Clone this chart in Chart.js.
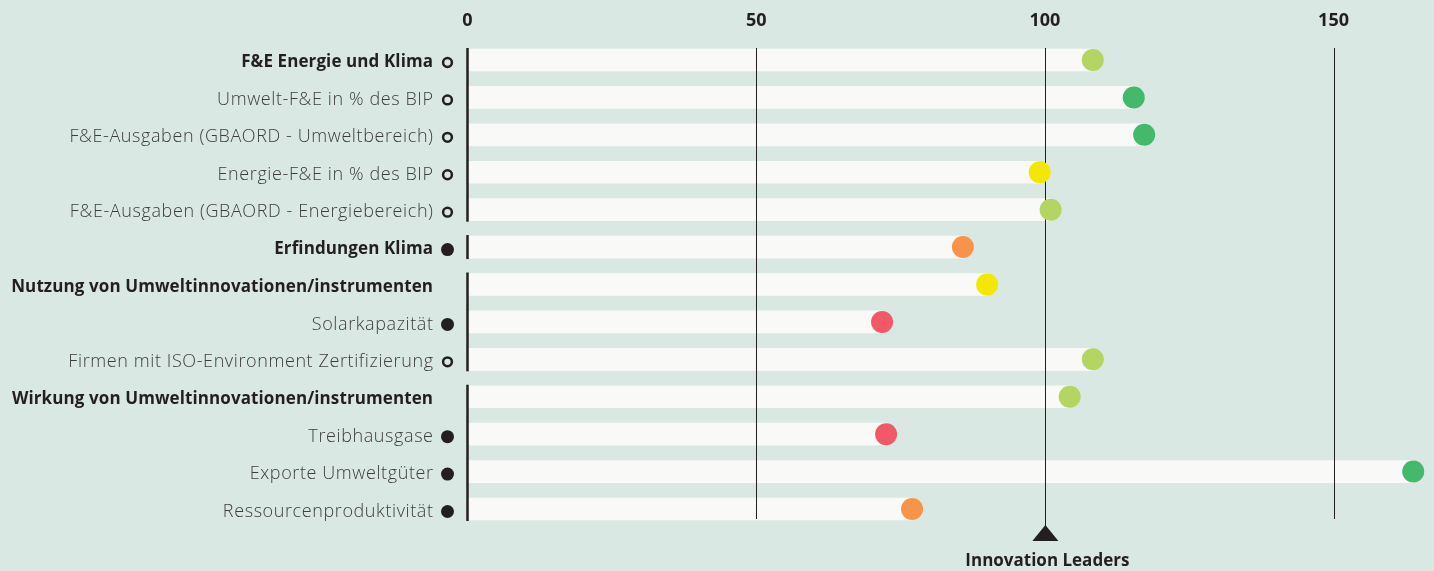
<!DOCTYPE html>
<html>
<head>
<meta charset="utf-8">
<script src="https://cdn.jsdelivr.net/npm/chart.js@4"></script>
<style>
  html, body { margin: 0; padding: 0; background: #d9e8e3; }
  #wrap { width: 1434px; height: 571px; }
</style>
</head>
<body>
<div id="wrap"><canvas id="indicatorChart"></canvas></div>
<script>
const categories = [
    'F&E Energie und Klima',
    'Umwelt-F&E in % des BIP',
    'F&E-Ausgaben (GBAORD - Umweltbereich)',
    'Energie-F&E in % des BIP',
    'F&E-Ausgaben (GBAORD - Energiebereich)',
    'Erfindungen Klima',
    'Nutzung von Umweltinnovationen/instrumenten',
    'Solarkapazität',
    'Firmen mit ISO-Environment Zertifizierung',
    'Wirkung von Umweltinnovationen/instrumenten',
    'Treibhausgase',
    'Exporte Umweltgüter',
    'Ressourcenproduktivität'
];
const values = [108.3, 115.4, 117.2, 99.1, 101.0, 85.8, 90.0, 71.8, 108.3, 104.3, 72.5, 163.8, 77.0];
const dotColors = ['#b4d562', '#44b96b', '#44b96b', '#f4e800', '#b4d562', '#f8944a', '#f4e800', '#f05a68', '#b4d562', '#b4d562', '#f05a68', '#44b96b', '#f8944a'];
const markers = ['open', 'open', 'open', 'open', 'open', 'filled', 'none', 'filled', 'open', 'none', 'filled', 'filled', 'filled'];
const boldRows = [true, false, false, false, false, true, true, false, false, true, false, false, false];
const groups = [0, 0, 0, 0, 0, 1, 2, 2, 2, 3, 3, 3, 3];
const tickValues = [0, 50, 100, 150];
const gridValues = [50, 100, 150];
const referenceValue = 100;
const referenceLabel = 'Innovation Leaders';

const ink = '#231f20';

const decorations = {
    id: 'decorations',
    afterDatasetDraw(chart, args) {
        if (args.meta.type !== 'bar') return;
        const ctx = chart.ctx;
        const x = chart.scales.x, y = chart.scales.y;
        const half = 11;
        const top = y.getPixelForValue(0) - half - 1;
        const bottom = y.getPixelForValue(categories.length - 1) + half + 1;
        ctx.save();
        // vertical grid lines
        ctx.strokeStyle = ink;
        ctx.lineWidth = 1;
        gridValues.forEach(v => {
            const px = Math.round(x.getPixelForValue(v)) + 0.5;
            ctx.beginPath();
            ctx.moveTo(px, top);
            ctx.lineTo(px, v === referenceValue ? bottom + 6 : bottom - 2);
            ctx.stroke();
        });
        // group segments at zero
        ctx.lineWidth = 2.5;
        const x0 = x.getPixelForValue(0);
        let start = 0;
        for (let i = 1; i <= groups.length; i++) {
            if (i === groups.length || groups[i] !== groups[start]) {
                ctx.beginPath();
                ctx.moveTo(x0, y.getPixelForValue(start) - half - 1);
                ctx.lineTo(x0, y.getPixelForValue(i - 1) + half + 1);
                ctx.stroke();
                start = i;
            }
        }
        ctx.restore();
    },
    afterDraw(chart) {
        const ctx = chart.ctx;
        const x = chart.scales.x, y = chart.scales.y;
        ctx.save();
        // row labels and markers
        ctx.textAlign = 'right';
        ctx.textBaseline = 'middle';
        categories.forEach((label, i) => {
            const py = y.getPixelForValue(i);
            let spacing = 0.6;
            if (boldRows[i]) {
                ctx.font = 'bold 17px "Open Sans"';
                spacing = 0.1;
                ctx.fillStyle = ink;
            } else {
                ctx.font = '300 18px "Open Sans"';
                ctx.fillStyle = '#3d3d3d';
            }
            ctx.letterSpacing = spacing + 'px';
            ctx.fillText(label, 433 + spacing, py + 2.5);
            ctx.letterSpacing = '0px';
            if (markers[i] === 'open') {
                ctx.strokeStyle = ink;
                ctx.lineWidth = 2.5;
                ctx.beginPath();
                ctx.arc(447.5, py + 2.5, 4.4, 0, Math.PI * 2);
                ctx.stroke();
            } else if (markers[i] === 'filled') {
                ctx.fillStyle = ink;
                ctx.beginPath();
                ctx.arc(447.5, py + 2.5, 6.5, 0, Math.PI * 2);
                ctx.fill();
            }
        });
        // reference marker
        const rx = x.getPixelForValue(referenceValue) + 0.5;
        ctx.fillStyle = ink;
        ctx.beginPath();
        ctx.moveTo(rx, 525);
        ctx.lineTo(rx + 13, 541);
        ctx.lineTo(rx - 13, 541);
        ctx.closePath();
        ctx.fill();
        ctx.textAlign = 'center';
        ctx.font = 'bold 17px "Open Sans"';
        ctx.fillText(referenceLabel, rx + 2, 561);
        ctx.restore();
    }
};

new Chart(document.getElementById('indicatorChart'), {
    type: 'bar',
    data: {
        labels: categories,
        datasets: [{
            type: 'line',
            indexAxis: 'y',
            data: values,
            showLine: false,
            pointRadius: 11,
            pointHoverRadius: 11,
            pointBorderWidth: 0,
            pointBackgroundColor: dotColors,
            clip: false,
            order: 0
        }, {
            type: 'bar',
            indexAxis: 'y',
            data: values,
            backgroundColor: '#f9faf8',
            borderWidth: 0,
            barThickness: 22,
            order: 1
        }]
    },
    options: {
        indexAxis: 'y',
        responsive: true,
        maintainAspectRatio: false,
        animation: false,
        layout: { autoPadding: false, padding: { left: 467.5, right: 0, top: 0, bottom: 43.3 } },
        plugins: { legend: { display: false }, tooltip: { enabled: false } },
        scales: {
            x: {
                position: 'top',
                min: 0,
                max: 167.4,
                grid: { display: false, drawTicks: false },
                border: { display: false },
                afterBuildTicks: scale => { scale.ticks = tickValues.map(v => ({ value: v })); },
                afterFit: scale => { scale.height = 41.3; },
                ticks: {
                    color: ink,
                    padding: 10,
                    font: { family: 'Open Sans', weight: 'bold', size: 18 }
                }
            },
            y: {
                display: false,
                offset: true
            }
        }
    },
    plugins: [decorations]
});
</script>
</body>
</html>
